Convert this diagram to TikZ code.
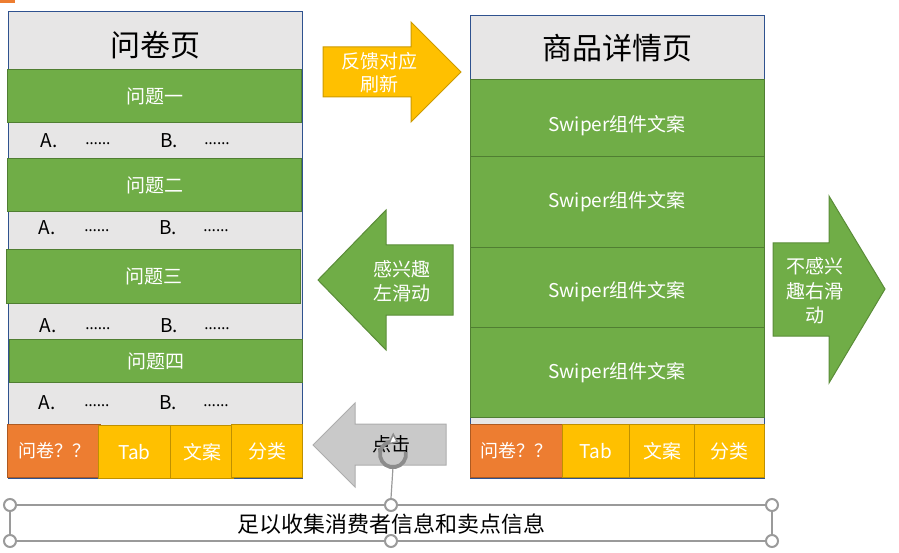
\documentclass[tikz,border=0pt]{standalone}
\usepackage{fontspec}
\setmainfont{Noto Sans CJK SC}
\newfontfamily\dotfont{Open Sans}
\usetikzlibrary{arrows.meta}
\definecolor{cgray}{HTML}{E7E6E6}
\definecolor{cblue}{HTML}{2F528F}
\definecolor{cgreen}{HTML}{70AD47}
\definecolor{cgreenb}{HTML}{507E32}
\definecolor{corange}{HTML}{ED7D31}
\definecolor{corangeb}{HTML}{AE5A21}
\definecolor{cyellow}{HTML}{FFC000}
\definecolor{cyellowb}{HTML}{BF9000}
\definecolor{carrgray}{HTML}{C9C9C9}
\definecolor{carrgrayb}{HTML}{ADADAD}
\definecolor{chandle}{HTML}{9A9A9A}
\definecolor{cicon}{HTML}{8C8C8C}
\begin{document}
\begin{tikzpicture}[x=1pt,y=-1pt,
  every node/.style={inner sep=0pt},
  panel/.style={fill=cgray,draw=cblue,line width=1pt,anchor=north west},
  gbar/.style={fill=cgreen,draw=cgreenb,line width=1pt,text=white,anchor=north west,font=\fontsize{19}{19}\selectfont},
  otab/.style={fill=corange,draw=corangeb,line width=1pt,text=white,anchor=north west,font=\fontsize{18}{18}\selectfont},
  ytab/.style={fill=cyellow,draw=cyellowb,line width=1pt,text=white,anchor=north west,font=\fontsize{19}{19}\selectfont},
  titletxt/.style={font=\fontsize{30}{30}\selectfont,text=black},
  opt/.style={font=\fontsize{19}{19}\selectfont,text=black,anchor=base},
  dots/.style={font=\dotfont\fontsize{16}{16}\selectfont,text=black,anchor=base},
  wtxt/.style={text=white,font=\fontsize{19}{24}\selectfont,align=center},
  handle/.style={circle,draw=chandle,fill=white,line width=2pt,minimum size=12pt},
  selline/.style={draw=chandle,line width=1.2pt}
]
\useasboundingbox (0,0) rectangle (899,553);
% small mark top-left
\fill[corange] (0,0) rectangle (15,3);

% ---------- left panel ----------
\node[panel,minimum width=294pt,minimum height=467pt] (lp) at (8,11) {};
\node[titletxt] (lt) at (155,45) {问卷页};
\node[gbar,minimum width=294pt,minimum height=53pt] (q1) at (7,69) {问题一};
\node[gbar,minimum width=294pt,minimum height=53pt] (q2) at (7,158) {问题二};
\node[gbar,minimum width=294pt,minimum height=54pt] (q3) at (6,249) {问题三};
\node[gbar,minimum width=293pt,minimum height=43pt] (q4) at (9,339) {问题四};
% options
\node[opt] (a1) at (49,148) {A.};
\node[dots] (d1a) at (98,145) {……};
\node[opt] (b1) at (169,148) {B.};
\node[dots] (d1b) at (217,145) {……};
\node[opt] (a2) at (47,235) {A.};
\node[dots] (d2a) at (97,232) {……};
\node[opt] (b2) at (168,235) {B.};
\node[dots] (d2b) at (216,232) {……};
\node[opt] (a3) at (48,332) {A.};
\node[dots] (d3a) at (98,329) {……};
\node[opt] (b3) at (169,332) {B.};
\node[dots] (d3b) at (217,329) {……};
\node[opt] (a4) at (47,409) {A.};
\node[dots] (d4a) at (97,406) {……};
\node[opt] (b4) at (168,409) {B.};
\node[dots] (d4b) at (216,406) {……};
% tabs
\node[otab,minimum width=93pt,minimum height=53pt] (lt1) at (7,424) {问卷？？};
\node[ytab,minimum width=72pt,minimum height=53pt] (lt2) at (98,425) {Tab};
\node[ytab,minimum width=63pt,minimum height=53pt] (lt3) at (170,425) {文案};
\node[ytab,minimum width=71pt,minimum height=53pt] (lt4) at (231,424) {分类};

% ---------- right panel ----------
\node[panel,minimum width=294pt,minimum height=463pt] (rp) at (470,15) {};
\node[titletxt] (rt) at (617,48) {商品详情页};
\node[gbar,minimum width=294pt,minimum height=77pt] (s1) at (470,79) {};
\node[gbar,minimum width=294pt,minimum height=91pt] (s2) at (470,156) {};
\node[gbar,minimum width=294pt,minimum height=80pt] (s3) at (470,247) {};
\node[gbar,minimum width=294pt,minimum height=90pt] (s4) at (470,327) {};
\node[wtxt] (s1t) at (617,126) {Swiper组件文案};
\node[wtxt] (s2t) at (617,202) {Swiper组件文案};
\node[wtxt] (s3t) at (617,292) {Swiper组件文案};
\node[wtxt] (s4t) at (617,373) {Swiper组件文案};
\node[otab,minimum width=92pt,minimum height=53pt] (rt1) at (470,424) {问卷？？};
\node[ytab,minimum width=67pt,minimum height=53pt] (rt2) at (562,424) {Tab};
\node[ytab,minimum width=65pt,minimum height=53pt] (rt3) at (629,424) {文案};
\node[ytab,minimum width=70pt,minimum height=53pt] (rt4) at (694,424) {分类};

% ---------- arrows ----------
\filldraw[fill=cyellow,draw=cyellowb!80!cyellow,line width=1pt]
  (323,47) -- (411,47) -- (411,22) -- (461,72) -- (411,122) -- (411,97) -- (323,97) -- cycle;
\node[wtxt,font=\fontsize{19}{23}\selectfont] (ya) at (379,73) {反馈对应\\刷新};

\filldraw[fill=cgreen,draw=cgreenb!70!cgreen,line width=1pt]
  (318,280) -- (386,210) -- (386,245) -- (453,245) -- (453,315) -- (386,315) -- (386,350) -- cycle;
\node[wtxt] (ga) at (402,281) {感兴趣\\左滑动};

\filldraw[fill=cgreen,draw=cgreenb!70!cgreen,line width=1pt]
  (773,243) -- (829,243) -- (829,196) -- (885,289) -- (829,383) -- (829,336) -- (773,336) -- cycle;
\node[wtxt,font=\fontsize{19}{24.5}\selectfont] (gb) at (815,291) {不感兴\\趣右滑\\动};

\filldraw[fill=carrgray,draw=carrgrayb,line width=1pt]
  (313,445) -- (355,403) -- (355,424) -- (446,424) -- (446,465) -- (355,465) -- (355,487) -- cycle;
\node[font=\fontsize{19}{19}\selectfont,text=black] (ca) at (391,444) {点击};

% ---------- text box with selection handles ----------
\coordinate (tl) at (10,505);
\coordinate (tr) at (772,505);
\coordinate (bl) at (10,541);
\coordinate (br) at (772,541);
\draw[selline] (tl) -- (tr) -- (br) -- (bl) -- cycle;
\node[font=\fontsize{22}{22}\selectfont,text=black] (tb) at (391,524) {足以收集消费者信息和卖点信息};
% rotation handle
\coordinate (rotbot) at (393,467);
\node[handle] (htm) at (391,505) {};
\draw[selline] (rotbot) -- (htm.north);
\draw[draw=cicon,line width=3.8pt,-{Triangle[length=9pt,width=13pt,fill=white,line width=1.5pt]}]
  (405.8,452) arc[start angle=10,end angle=-295,radius=13pt];
\node[handle] (htl) at (tl) {};
\node[handle] (htr) at (tr) {};
\node[handle] (hbl) at (bl) {};
\node[handle] (hbm) at (391,541) {};
\node[handle] (hbr) at (br) {};
\end{tikzpicture}
\end{document}
